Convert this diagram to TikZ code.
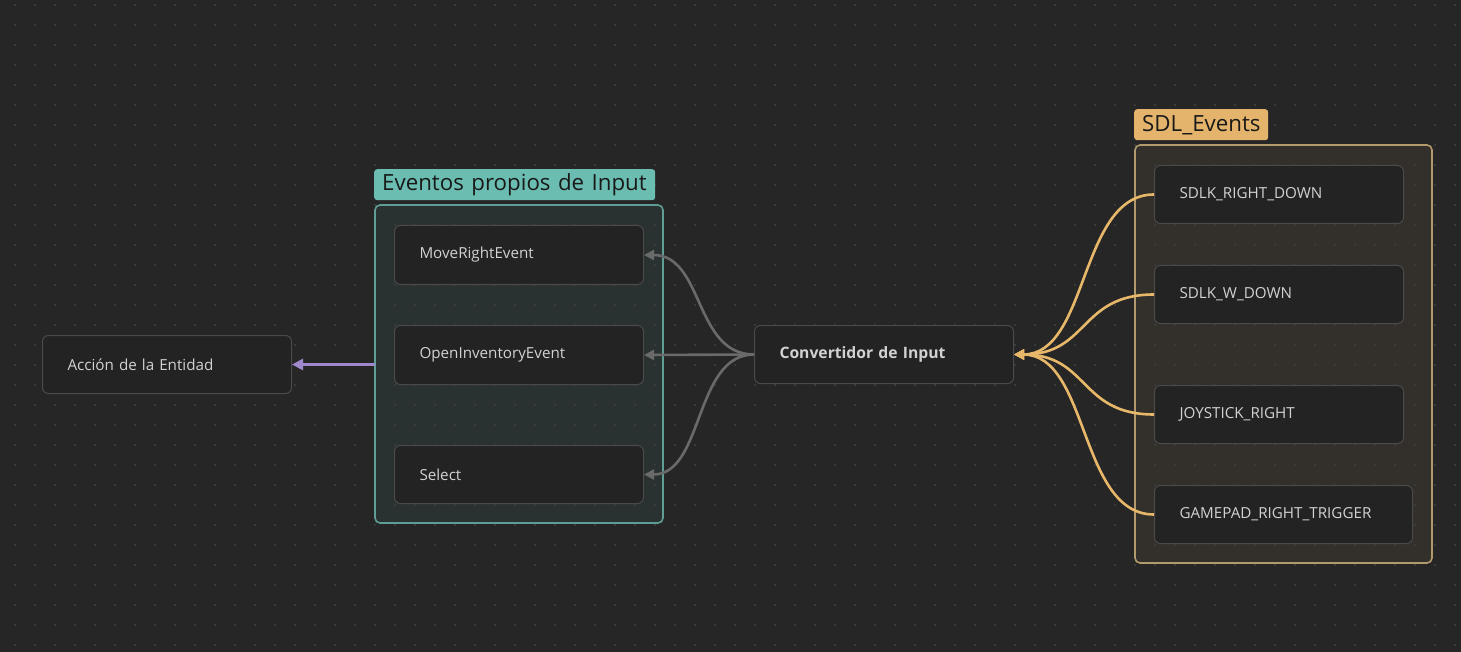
\documentclass[tikz,border=0pt]{standalone}
\usepackage{fontspec}
\setmainfont{Open Sans}
\usetikzlibrary{arrows.meta}
\definecolor{bg}{HTML}{262626}
\definecolor{dotc}{HTML}{3A3A3A}
\definecolor{nodefill}{HTML}{232323}
\definecolor{nodeline}{HTML}{4A4A4A}
\definecolor{txt}{HTML}{D2D2D2}
\definecolor{tealfill}{HTML}{2A3131}
\definecolor{tealline}{HTML}{5E9E95}
\definecolor{teallab}{HTML}{6CBDB1}
\definecolor{sdlfill}{HTML}{33302B}
\definecolor{sdlline}{HTML}{B39A6C}
\definecolor{sdllab}{HTML}{E4B46C}
\definecolor{orangee}{HTML}{E8B86A}
\definecolor{graye}{HTML}{6A6A6A}
\definecolor{purplee}{HTML}{9F88CC}
\tikzset{
  x=1pt,y=-1pt,
  box/.style={draw=nodeline, line width=1pt, fill=nodefill, rounded corners=6pt,
    anchor=north west, minimum height=#1, inner xsep=25pt, inner ysep=0pt,
    align=left, text=txt, font=\fontsize{15.2}{18}\selectfont},
  grp/.style={rounded corners=5pt, anchor=north west, inner sep=0pt, outer sep=0pt},
  grpline/.style={draw=#1, line width=1.6pt, rounded corners=5pt},
  glabel/.style={fill=#1, rounded corners=3pt, anchor=north west, inner xsep=8pt, inner ysep=0pt,
    minimum height=31pt, align=left, text=black!90, font=\fontsize{22.3}{25}\selectfont},
  gedge/.style={draw=graye, line width=2.6pt, -{Triangle[length=10pt,width=10pt]}},
  oedge/.style={draw=orangee, line width=2.6pt, -{Triangle[length=10pt,width=10pt]}},
  pedge/.style={draw=purplee, line width=3pt, -{Triangle[length=11pt,width=11pt]}},
}
\begin{document}
\begin{tikzpicture}
\useasboundingbox (0,0) rectangle (1461,652);
\fill[bg] (0,0) rectangle (1461,652);
% groups
\node[grp, fill=tealfill, minimum width=288pt, minimum height=318pt] (eventos) at (375,205) {};
\node[grp, fill=sdlfill, minimum width=297pt, minimum height=418pt] (sdl) at (1135,145) {};
% dot grid
\foreach \i in {0,...,72}{
  \foreach \j in {0,...,32}{
    \fill[dotc] (15+20*\i-0.7,5+20*\j-0.7) rectangle ++(1.4,1.4);
  }
}
\draw[grpline=tealline] (eventos.north west) rectangle (eventos.south east);
\draw[grpline=sdlline] (sdl.north west) rectangle (sdl.south east);
\node[glabel=teallab, text width=265pt] (evlab) at (374,169) {Eventos propios de Input};
\node[glabel=sdllab, text width=118pt] (sdllab) at (1134,109) {SDL\_Events};
% nodes
\node[box=58pt, text width=199pt] (acc) at (42,335) {Acción de la Entidad};
\node[box=59pt, text width=199pt] (move) at (394,225) {MoveRightEvent};
\node[box=59pt, text width=199pt] (open) at (394,325) {OpenInventoryEvent};
\node[box=58pt, text width=199pt] (sel) at (394,445) {Select};
\node[box=58pt, text width=209pt, font=\fontsize{15.7}{18}\selectfont\bfseries] (conv) at (754,325) {Convertidor de Input};
\node[box=58pt, text width=199pt] (s1) at (1154,165) {SDLK\_RIGHT\_DOWN};
\node[box=58pt, text width=199pt] (s2) at (1154,265) {SDLK\_W\_DOWN};
\node[box=58pt, text width=199pt] (s3) at (1154,385) {JOYSTICK\_RIGHT};
\node[box=58pt, text width=208pt] (s4) at (1154,485) {GAMEPAD\_RIGHT\_TRIGGER};
% edges
\draw[gedge] (conv.west) .. controls +(-60,0) and +(60,0) .. (move.east);
\draw[gedge] (conv.west) -- (open.east);
\draw[gedge] (conv.west) .. controls +(-60,0) and +(60,0) .. (sel.east);
\foreach \s in {s1,s2,s3,s4}{
  \draw[oedge] (\s.west) .. controls +(-75,0) and +(75,0) .. (conv.east);
}
\draw[pedge] (acc.east -| eventos.west) -- (acc.east);
\end{tikzpicture}
\end{document}
